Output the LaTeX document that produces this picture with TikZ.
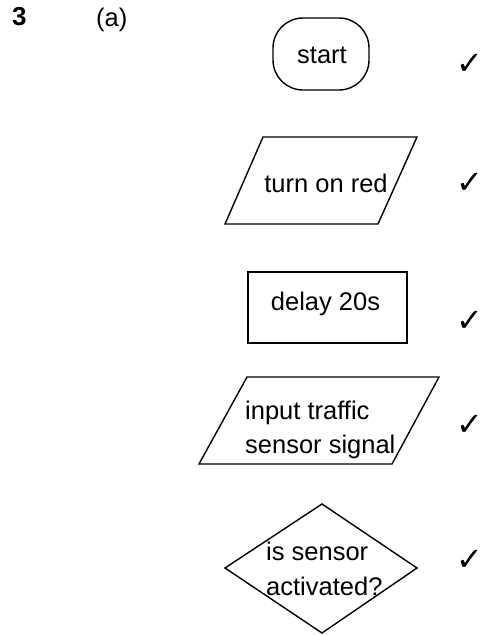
\documentclass[tikz,border=0pt]{standalone}
\usepackage{fontspec}
\setmainfont{Liberation Sans}
\newfontfamily\tickfont{DejaVu Sans}
\begin{document}
\begin{tikzpicture}[x=1pt,y=-1pt,
  shape line/.style={draw=black,line width=1.4pt,line join=miter},
  lbl/.style={font=\fontsize{25.5}{35}\selectfont,inner sep=0pt,anchor=base},
  lbll/.style={font=\fontsize{25.5}{35}\selectfont,inner sep=0pt,anchor=base west},
  tick/.style={font=\tickfont\fontsize{32}{32}\selectfont,inner sep=0pt}]
\useasboundingbox (0,0) rectangle (482,635);
% headings
\node[lbll,font=\fontsize{26}{30}\selectfont\bfseries] (qnum) at (12,25) {3};
\node[lbll] (part) at (96,26) {(a)};
% start
\draw[shape line] (303,18) -- (339,18) .. controls (355.6,18) and (369,31.4) .. (369,48) -- (369,60)
  .. controls (369,76.6) and (355.6,90) .. (339,90) -- (303,90) .. controls (286.4,90) and (273,76.6) .. (273,60)
  -- (273,48) .. controls (273,31.4) and (286.4,18) .. (303,18) -- cycle;
\node[lbl] (start) at (322,63) {start};
\node[tick] (t1) at (470,64) {✓};
% turn on red
\draw[shape line] (263,137) -- (417,137) -- (378,224) -- (225,224) -- cycle;
\node[lbl] (red) at (326,192) {turn on red};
\node[tick] (t2) at (470,183) {✓};
% delay
\draw[shape line] (248,272) rectangle (407,343);
\node[lbl] (delay) at (325.5,310) {delay 20s};
\node[tick] (t3) at (470,321) {✓};
% input
\draw[shape line] (247,377) -- (439,377) -- (392,464) -- (199,464) -- cycle;
\node[lbll] (in1) at (245,419) {input traffic};
\node[lbll] (in2) at (245,453) {sensor signal};
\node[tick] (t4) at (470,425) {✓};
% decision
\draw[shape line] (322,504) -- (417,568) -- (322,633) -- (225,568) -- cycle;
\node[lbll] (d1) at (266,560) {is sensor};
\node[lbll] (d2) at (266,595) {activated?};
\node[tick] (t5) at (470,560) {✓};
\end{tikzpicture}
\end{document}
